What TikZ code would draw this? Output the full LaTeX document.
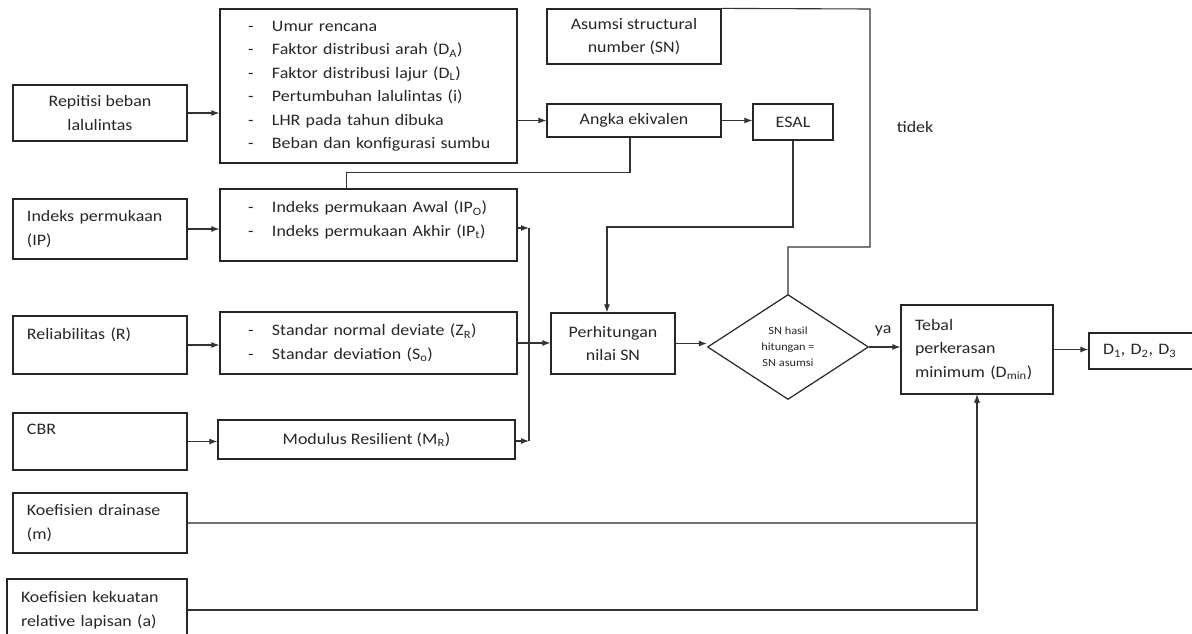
\documentclass[tikz,border=0pt]{standalone}
\usepackage{fontspec}
\setmainfont{Carlito}[FakeStretch=1.12]
\usetikzlibrary{shapes.geometric,arrows.meta}

\newcommand{\butir}[1]{\hspace*{24pt}\makebox[24pt][l]{-}#1}

\begin{document}
\begin{tikzpicture}[x=1pt, y=-1pt,
   kotak/.style={draw=black!85, line width=1.2pt, inner sep=0pt, text=black!85,
                 font=\fontsize{16}{23.5}\selectfont, align=center},
   kiri/.style={kotak, align=left, inner xsep=14pt, text width=#1},
   daftar/.style={kotak, align=left, inner xsep=4pt, text width=289pt,
                 minimum width=297pt},
   garis/.style={draw=black!80, line width=1.1pt},
   panah/.style={garis, -{Latex[length=8pt,width=6pt]}}]

   \useasboundingbox (0,0) rectangle (1192,634);

   % kotak masukan (kiri)
   \node [kotak, minimum width=174pt, minimum height=56pt] (repitisi) at (100,113) {Repitisi beban\\lalulintas};
   \node [kiri=146pt, minimum width=174pt, minimum height=60pt] (ip) at (100,229) {Indeks permukaan\\(IP)};
   \node [kiri=146pt, minimum width=174pt, minimum height=58pt] (reliab) at (100,345) {Reliabilitas (R)\\\mbox{}};
   \node [kiri=146pt, minimum width=174pt, minimum height=57pt] (cbr) at (100,441.5) {CBR\\\mbox{}};
   \node [kiri=146pt, minimum width=174pt, minimum height=60pt] (drainase) at (100,523) {Koefisien drainase\\(m)};
   \node [kiri=152pt, minimum width=180pt, minimum height=62pt] (kekuatan) at (97,610) {Koefisien kekuatan\\relative lapisan (a)};

   % kotak parameter
   \node [daftar, minimum height=154pt] (lalu) at (368.5,86) {%
      \butir{Umur rencana}\\
      \butir{Faktor distribusi arah (D\textsubscript{A})}\\
      \butir{Faktor distribusi lajur (D\textsubscript{L})}\\
      \butir{Pertumbuhan lalulintas (i)}\\
      \butir{LHR pada tahun dibuka}\\
      \butir{Beban dan konfigurasi sumbu}};
   \node [daftar, minimum height=72pt] (indeks) at (368.5,225) {%
      \butir{Indeks permukaan Awal (IP\textsubscript{O})}\\
      \butir{Indeks permukaan Akhir (IP\textsubscript{t})}\\[-11pt]\mbox{}};
   \node [daftar, minimum height=62pt] (standar) at (368.5,343) {%
      \butir{Standar normal deviate (Z\textsubscript{R})}\\
      \butir{Standar deviation (S\textsubscript{o})}};
   \node [kotak, minimum width=297pt, minimum height=39pt] (modulus) at (366.5,439.5) {Modulus Resilient (M\textsubscript{R})};

   % kotak tengah
   \node [kotak, minimum width=174pt, minimum height=55pt] (asumsi) at (634,36.5) {Asumsi structural\\number (SN)};
   \node [kotak, minimum width=174pt, minimum height=33pt] (angka) at (634,120.5) {Angka ekivalen};
   \node [kotak, minimum width=80pt, minimum height=36pt] (esal) at (793,122) {ESAL};
   \node [kotak, minimum width=124pt, minimum height=61pt] (hitung) at (613,343.5) {Perhitungan\\nilai SN};
   \node [kotak, shape=diamond, minimum width=161pt, minimum height=105pt,
          font=\fontsize{11}{16}\selectfont] (cek) at (788,347) {SN hasil\\hitungan =\\SN asumsi};
   \node [kiri=124pt, minimum width=152pt, minimum height=89pt] (tebal) at (977,349.5) {Tebal\\perkerasan\\minimum (D\textsubscript{min})};
   \node [kiri=76pt, minimum width=104pt, minimum height=36pt] (hasil) at (1141,351) {D\textsubscript{1}, D\textsubscript{2}, D\textsubscript{3}};
   \node [text=black!85, font=\fontsize{16}{20}\selectfont] (tidak) at (915,127) {tidek};

   % titik bantu
   \coordinate (busatas) at (529,228);
   \coordinate (busbawah) at (529,441);
   \coordinate (belokesal) at (793,227);
   \coordinate (tidakbawah) at (788,247);
   \coordinate (tidakatas) at (870,9);

   % panah
   \draw [panah] (repitisi.east) -- (repitisi.east -| lalu.west);
   \draw [panah] (angka.west -| lalu.east) -- (angka.west);
   \draw [panah] (angka.east) -- (angka.east -| esal.west);
   \draw [panah] (esal.south) -- (belokesal) -| ([xshift=-6pt]hitung.north);
   \draw [garis] ([xshift=-4pt]angka.south) -- ++(0,35) -| ([xshift=-22pt]indeks.north);
   \draw [panah] (ip.east) -- (ip.east -| indeks.west);
   \draw [panah] (reliab.east) -- (reliab.east -| standar.west);
   \draw [panah] (cbr.east) -- (cbr.east -| modulus.west);
   \draw [panah] (indeks.east |- busatas) -- (busatas);
   \draw [garis] (busatas) -- (busbawah);
   \draw [panah] (modulus.east |- busbawah) -- (busbawah);
   \draw [panah] (standar.east) -- (standar.east -| hitung.west);
   \draw [panah] (hitung.east) -- (hitung.east -| cek.west);
   \draw [panah] (cek.east) -- (cek.east -| tebal.west)
      node [pos=0.45, above=7pt, text=black!85, font=\fontsize{16}{20}\selectfont] {ya};
   \draw [panah] (tebal.east) -- (tebal.east -| hasil.west);

   % kembali ke asumsi
   \draw [garis] (cek.north) -- (tidakbawah) -| (tidakatas) -- (asumsi.north east);

   % koefisien ke tebal perkerasan
   \draw [panah, draw=black!55] (drainase.east) -| (tebal.south);
   \draw [panah] (kekuatan.east) -| (tebal.south);

\end{tikzpicture}
\end{document}
